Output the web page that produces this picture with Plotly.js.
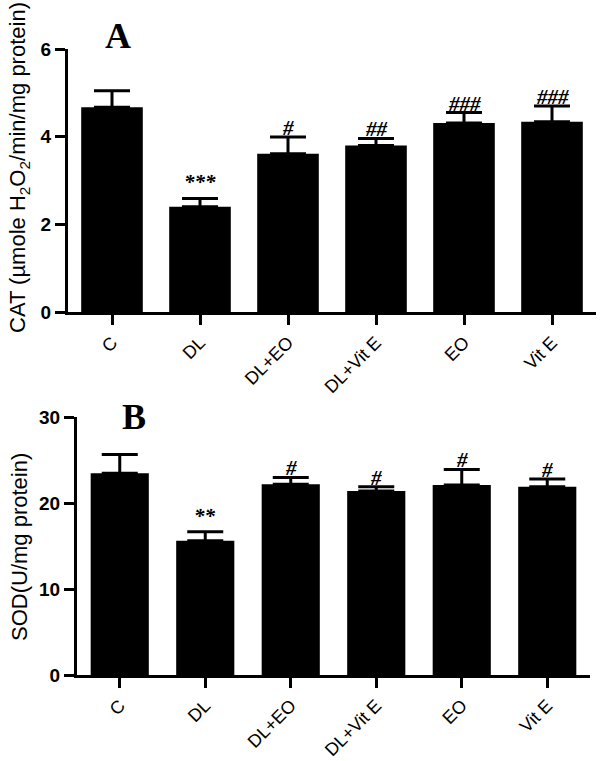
<!DOCTYPE html>
<html>
<head>
<meta charset="utf-8">
<script src="https://cdn.plot.ly/plotly-3.0.1.min.js"></script>
<style>
  html, body { margin: 0; padding: 0; background: #fff; }
  #chart { width: 600px; height: 761px; }
</style>
</head>
<body>
<div id="chart"></div>
<script>
// ---- data ----
var categories = ['C', 'DL', 'DL+EO', 'DL+Vit E', 'EO', 'Vit E'];
var catMean = [4.67, 2.40, 3.61, 3.80, 4.31, 4.34];
var catSem  = [0.38, 0.19, 0.38, 0.16, 0.24, 0.36];
var catSig  = ['', '***', '#', '##', '###', '###'];
var sodMean = [23.45, 15.6, 22.17, 21.4, 22.1, 21.9];
var sodSem  = [2.2, 1.05, 0.8, 0.5, 1.8, 0.9];
var sodSig  = ['', '**', '#', '#', '#', '#'];
var catTicks = [0, 2, 4, 6];
var sodTicks = [0, 10, 20, 30];

var zeros = categories.map(function () { return 0; });
var sansFont = 'Liberation Sans, Arial, sans-serif';
var serifFont = 'Liberation Serif, Times New Roman, serif';

var traces = [
  {
    type: 'bar', x: categories, y: catMean, xaxis: 'x', yaxis: 'y',
    width: 0.7,
    marker: { color: '#000000', line: { width: 0 } },
    error_y: { type: 'data', array: catSem, arrayminus: zeros, symmetric: false,
               color: '#000000', thickness: 3, width: 18 },
    hoverinfo: 'skip'
  },
  {
    type: 'bar', x: categories, y: sodMean, xaxis: 'x2', yaxis: 'y2',
    width: 0.68,
    marker: { color: '#000000', line: { width: 0 } },
    error_y: { type: 'data', array: sodSem, arrayminus: zeros, symmetric: false,
               color: '#000000', thickness: 3, width: 18 },
    hoverinfo: 'skip'
  }
];

var annotations = [];
function sigFont() {
  return { family: serifFont, size: 21, color: '#000', weight: 'bold', style: 'italic' };
}
categories.forEach(function (c, i) {
  if (catSig[i]) {
    annotations.push({
      x: c, y: catMean[i] + catSem[i], xref: 'x', yref: 'y',
      text: catSig[i], showarrow: false, yanchor: 'bottom',
      yshift: catSig[i].indexOf('*') >= 0 ? 2 : -5,
      font: sigFont()
    });
  }
  if (sodSig[i]) {
    annotations.push({
      x: c, y: sodMean[i] + sodSem[i], xref: 'x2', yref: 'y2',
      text: sodSig[i], showarrow: false, yanchor: 'bottom',
      yshift: sodSig[i].indexOf('*') >= 0 ? 2 : -5,
      font: sigFont()
    });
  }
});

annotations.push({
  text: 'A', xref: 'paper', yref: 'paper', x: 118 / 600, y: 1 - 36 / 761,
  xanchor: 'center', yanchor: 'middle', showarrow: false,
  font: { family: serifFont, size: 36, color: '#000', weight: 'bold' }
});
annotations.push({
  text: 'B', xref: 'paper', yref: 'paper', x: 134 / 600, y: 1 - 417 / 761,
  xanchor: 'center', yanchor: 'middle', showarrow: false,
  font: { family: serifFont, size: 36, color: '#000', weight: 'bold' }
});
annotations.push({
  text: 'CAT (µmole H<sub>2</sub>O<sub>2</sub>/min/mg protein)',
  xref: 'paper', yref: 'paper', x: 19 / 600, y: 1 - 168 / 761,
  xanchor: 'center', yanchor: 'middle', textangle: -90, showarrow: false,
  font: { family: sansFont, size: 22, color: '#000' }
});
annotations.push({
  text: 'SOD(U/mg protein)',
  xref: 'paper', yref: 'paper', x: 19 / 600, y: 1 - 547 / 761,
  xanchor: 'center', yanchor: 'middle', textangle: -90, showarrow: false,
  font: { family: sansFont, size: 22, color: '#000' }
});

function xAxis(domain, anchor) {
  return {
    domain: domain, anchor: anchor, type: 'category', range: [-0.5, 5.5],
    showline: true, linecolor: '#000', linewidth: 3,
    ticks: 'outside', ticklen: 10, tickwidth: 3, tickcolor: '#000',
    tickangle: -45, showgrid: false, zeroline: false, fixedrange: true,
    tickfont: { family: sansFont, size: 18, color: '#000' }
  };
}
function yAxis(domain, anchor, range, ticks) {
  return {
    domain: domain, anchor: anchor, range: range,
    tickmode: 'array', tickvals: ticks, ticktext: ticks.map(String),
    showline: true, linecolor: '#000', linewidth: 3,
    ticks: 'outside', ticklen: 10, tickwidth: 3, tickcolor: '#000',
    showgrid: false, zeroline: false, fixedrange: true,
    tickfont: { family: sansFont, size: 19, color: '#000', weight: 'bold' }
  };
}

var layout = {
  width: 600, height: 761,
  margin: { l: 0, r: 0, t: 0, b: 0, pad: 0 },
  paper_bgcolor: '#ffffff', plot_bgcolor: '#ffffff',
  showlegend: false,
  xaxis: xAxis([68 / 600, 596 / 600], 'y'),
  yaxis: yAxis([(761 - 312) / 761, (761 - 49) / 761], 'x', [0, 6], catTicks),
  xaxis2: xAxis([77 / 600, 590 / 600], 'y2'),
  yaxis2: yAxis([(761 - 675) / 761, (761 - 417) / 761], 'x2', [0, 30], sodTicks),
  annotations: annotations
};

Plotly.newPlot('chart', traces, layout, { displayModeBar: false, staticPlot: true });
</script>
</body>
</html>
